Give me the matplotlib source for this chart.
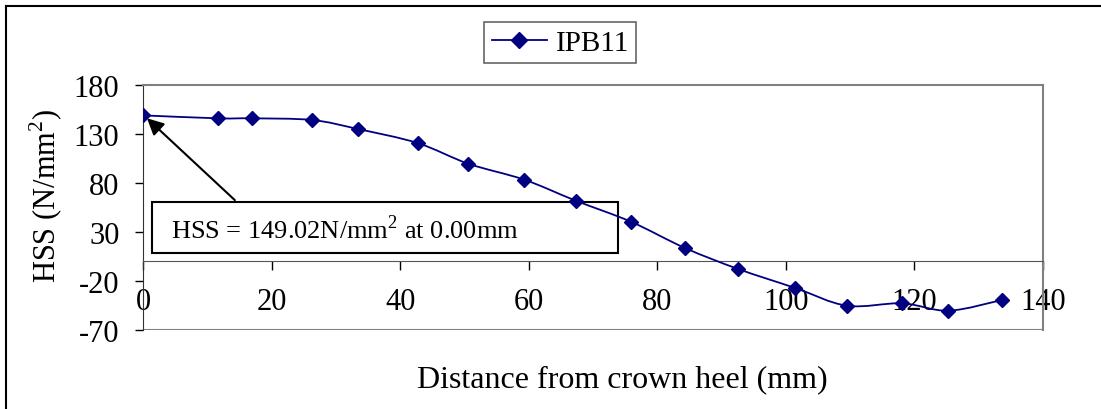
import numpy as np
import matplotlib.pyplot as plt
from matplotlib.path import Path
from matplotlib.patches import PathPatch, Rectangle
from matplotlib.lines import Line2D

plt.rcParams['font.family'] = ['Liberation Serif', 'DejaVu Serif']
plt.rcParams['mathtext.fontset'] = 'custom'
plt.rcParams['mathtext.rm'] = 'Liberation Serif'
plt.rcParams['axes.unicode_minus'] = False

# values
distance = [0.0, 11.7, 17.0, 26.3, 33.5, 42.7, 50.6, 59.3, 67.3, 75.9,
            84.3, 92.6, 101.4, 109.5, 118.1, 125.3, 133.6]
hss = [149.02, 146.0, 146.0, 144.3, 135.0, 120.8, 99.7, 83.4, 62.0, 40.5,
       13.7, -7.8, -27.0, -45.2, -42.8, -50.3, -39.4]
series_name = 'IPB11'
y_ticks = [180, 130, 80, 30, -20, -70]
x_ticks = [0, 20, 40, 60, 80, 100, 120, 140]
navy = '#000080'

fig = plt.figure(figsize=(11.01, 4.10), dpi=100)
ax = fig.add_axes([0.1299, 0.1927, 0.8174, 0.5975])

# smoothed line (Excel style) via Catmull-Rom bezier segments
x = np.array(distance)
y = np.array(hss)
verts = [(x[0], y[0])]
codes = [Path.MOVETO]
n = len(x)
for i in range(n - 1):
    p0 = np.array([x[max(i - 1, 0)], y[max(i - 1, 0)]])
    p1 = np.array([x[i], y[i]])
    p2 = np.array([x[i + 1], y[i + 1]])
    p3 = np.array([x[min(i + 2, n - 1)], y[min(i + 2, n - 1)]])
    c1 = p1 + (p2 - p0) / 6.0
    c2 = p2 - (p3 - p1) / 6.0
    verts += [tuple(c1), tuple(c2), tuple(p2)]
    codes += [Path.CURVE4] * 3
ax.add_patch(PathPatch(Path(verts, codes), fill=False, edgecolor=navy, lw=1.3, zorder=4))
ax.plot(distance, hss, ls='none', marker='D', ms=7, color=navy, zorder=5)

ax.set_xlim(0, 140)
ax.set_ylim(-70, 180)
ax.set_xticks(x_ticks)
ax.set_yticks(y_ticks)
ax.tick_params(axis='y', direction='out', length=6, width=1, labelsize=22, pad=11)
ax.tick_params(axis='x', direction='out', length=6.5, width=1, labelsize=22, pad=12)

ax.spines['bottom'].set_position(('data', 0))
ax.spines['bottom'].set_color('#555555')
ax.spines['left'].set_color('#333333')
for s in ['top', 'right']:
    ax.spines[s].set_color('#808080')
    ax.spines[s].set_linewidth(1.5)
ax.axhline(-70, color='#808080', lw=1.5, zorder=1)

ax.set_ylabel('HSS (N/mm$^2$)', fontsize=22)
ax.yaxis.set_label_coords(-0.087, 0.55)
fig.text(0.565, 0.073, 'Distance from crown heel (mm)', fontsize=23, ha='center', va='center')

# annotation box with arrow
ax.add_patch(Rectangle((1.4, 8.6), 72.5, 52.0, facecolor='white', edgecolor='black', lw=1.5, zorder=2))
ax.text(4.3, 33.5, 'HSS = 149.02N/mm$^2$ at 0.00mm', fontsize=19, va='center', ha='left', zorder=3)
ax.annotate('', xy=(0.3, 148.0), xytext=(14.6, 60.6),
            arrowprops=dict(arrowstyle='-|>', color='black', lw=1.5, mutation_scale=25), zorder=3)

handle = Line2D([], [], color=navy, marker='D', ms=8, lw=1.3)
leg = fig.legend([handle], [series_name], loc='center', bbox_to_anchor=(0.509, 0.893),
                 fontsize=21, fancybox=False, framealpha=1, edgecolor='#666666',
                 handlelength=1.9, handletextpad=0.3, borderpad=0.25, borderaxespad=0)
leg.get_frame().set_linewidth(1.2)

# outer chart border (top and left visible)
fig.add_artist(Line2D([0.0054, 1.0], [0.983, 0.983], color='black', lw=1.5, transform=fig.transFigure))
fig.add_artist(Line2D([0.0054, 0.0054], [0.0, 0.983], color='black', lw=1.5, transform=fig.transFigure))

fig.savefig('out.png', dpi=100)
